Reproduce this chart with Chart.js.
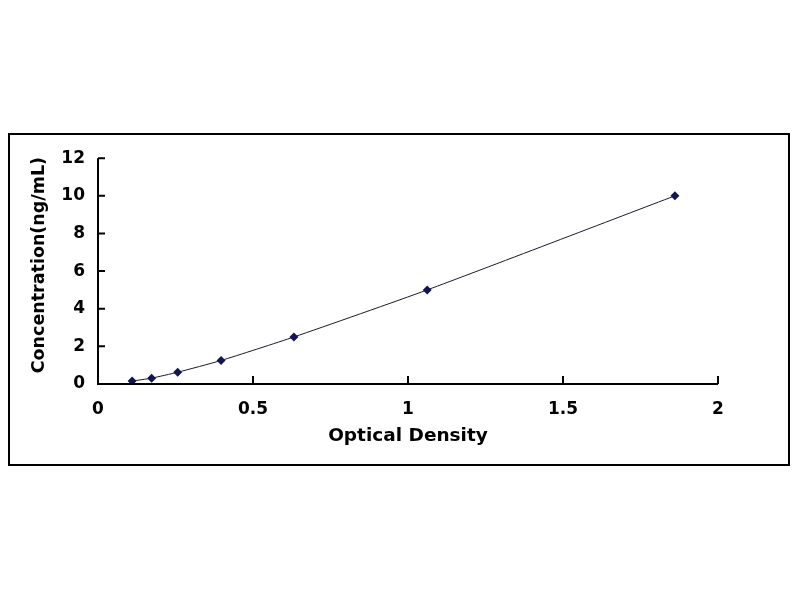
<!DOCTYPE html>
<html><head><meta charset="utf-8">
<script src="https://cdn.jsdelivr.net/npm/chart.js@4/dist/chart.umd.min.js"></script>
<style>
html,body{margin:0;padding:0;background:#fff;width:800px;height:600px;overflow:hidden;}
#box{position:absolute;left:8px;top:133px;width:778px;height:329px;border:2px solid #000;}
canvas{display:block;}
</style></head><body>
<div id="box"><canvas id="c" width="778" height="329"></canvas></div>
<script>
const opticalDensity = [0.110, 0.173, 0.257, 0.397, 0.632, 1.062, 1.861];
const concentration = [0.156, 0.312, 0.625, 1.25, 2.5, 5, 10];
const xTicks = [0, 0.5, 1, 1.5, 2];
const yTicks = [0, 2, 4, 6, 8, 10, 12];
const xTitle = 'Optical Density';
const yTitle = 'Concentration(ng/mL)';

const points = opticalDensity.map((x, i) => ({x, y: concentration[i]}));
const fam = 'DejaVu Sans, Liberation Sans, sans-serif';
const tickFont = {family: fam, size: 17, weight: 'bold'};
const xTitleFont = {family: fam, size: 18.5, weight: 'bold'};

const innerTicks = {
  id: 'innerTicks',
  afterDraw(chart) {
    const {ctx, scales: {x, y}} = chart;
    ctx.save();
    ctx.strokeStyle = '#000';
    ctx.lineWidth = 2;
    ctx.beginPath();
    ctx.moveTo(x.left, y.top); ctx.lineTo(x.left, y.bottom); ctx.lineTo(x.right, y.bottom);
    xTicks.forEach(v => { const px = x.getPixelForValue(v); ctx.moveTo(px, y.bottom); ctx.lineTo(px, y.bottom - 8); });
    yTicks.forEach(v => { const py = y.getPixelForValue(v); ctx.moveTo(x.left, py); ctx.lineTo(x.left + 7, py); });
    ctx.stroke();
    // y axis title, slightly above the axis centre as in the reference
    ctx.translate(y.left + 29, (y.top + y.bottom) / 2 - 6);
    ctx.rotate(-Math.PI / 2);
    ctx.fillStyle = '#000';
    ctx.font = 'bold 17.5px ' + fam;
    ctx.textAlign = 'center';
    ctx.textBaseline = 'middle';
    ctx.fillText(yTitle, 0, 0);
    ctx.restore();
  }
};

new Chart(document.getElementById('c'), {
  type: 'scatter',
  data: {datasets: [{
    data: points,
    showLine: true,
    tension: 0.2,
    borderColor: '#1a1a2e',
    borderWidth: 1,
    pointStyle: 'rectRot',
    pointRadius: 4.5,
    pointBackgroundColor: '#141450',
    pointBorderColor: '#141450',
    pointBorderWidth: 0
  }]},
  options: {
    responsive: false,
    animation: false,
    events: [],
    layout: {padding: {left: 0, top: 21, right: 70, bottom: 0}},
    plugins: {legend: {display: false}, tooltip: {enabled: false}},
    scales: {
      x: {
        type: 'linear', min: 0, max: 2,
        afterBuildTicks: s => { s.ticks = xTicks.map(v => ({value: v})); },
        afterFit: s => { s.height = 80; },
        grid: {display: false, drawTicks: false},
        border: {display: false},
        ticks: {color: '#000', font: tickFont, padding: 15, maxRotation: 0, callback: v => String(v)},
        title: {display: true, text: xTitle, color: '#000', font: xTitleFont, padding: {top: 0, bottom: 17}}
      },
      y: {
        type: 'linear', min: 0, max: 12,
        afterBuildTicks: s => { s.ticks = yTicks.map(v => ({value: v})); },
        afterFit: s => { s.width = 88; },
        grid: {display: false, drawTicks: false},
        border: {display: false},
        ticks: {color: '#000', font: tickFont, padding: 13, callback: v => String(v)},
        title: {display: false}
      }
    }
  },
  plugins: [innerTicks]
});
</script>
</body></html>
